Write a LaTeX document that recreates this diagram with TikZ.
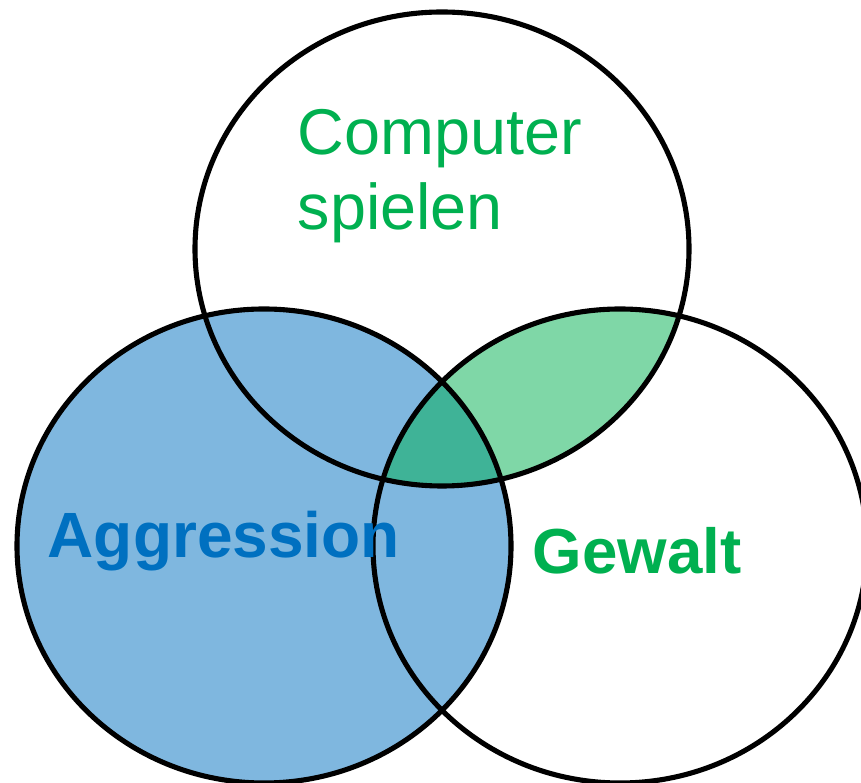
\documentclass[tikz,border=0pt]{standalone}
\usepackage{fontspec}
\setmainfont{Liberation Sans}
\usepackage{xcolor}
\usepackage{tikz}
\definecolor{aggblue}{HTML}{0070C0}
\definecolor{gewgreen}{HTML}{00B050}
\tikzset{ring/.style={draw=black,line width=1.45pt},
         setlabel/.style={inner sep=0pt,anchor=base west}}

\begin{document}
\begin{tikzpicture}[x=0.01cm,y=-0.01cm]
\useasboundingbox (0,0) rectangle (861,783);
\coordinate (ctop) at (442,249);
\coordinate (cleft) at (264,546);
\coordinate (cright) at (620,546);
\fill[aggblue,opacity=0.5] (cleft) ellipse (247 and 237);
\begin{scope}
\clip (ctop) ellipse (247 and 237);
\fill[gewgreen,opacity=0.5] (cright) ellipse (247 and 237);
\end{scope}
\draw[ring] (ctop) ellipse (247 and 237);
\draw[ring] (cleft) ellipse (247 and 237);
\draw[ring] (cright) ellipse (247 and 237);
\node[setlabel,text=gewgreen,font=\fontsize{18.4}{21}\selectfont] (computer) at (297,155) {Computer};
\node[setlabel,text=gewgreen,font=\fontsize{18.4}{21}\selectfont] (spielen) at (297,230) {spielen};
\node[setlabel,text=aggblue,font=\fontsize{18.2}{21}\selectfont\bfseries] (aggression) at (47,558) {Aggression};
\node[setlabel,text=gewgreen,font=\fontsize{18.1}{21}\selectfont\bfseries] (gewalt) at (532,574) {Gewalt};
\end{tikzpicture}
\end{document}
